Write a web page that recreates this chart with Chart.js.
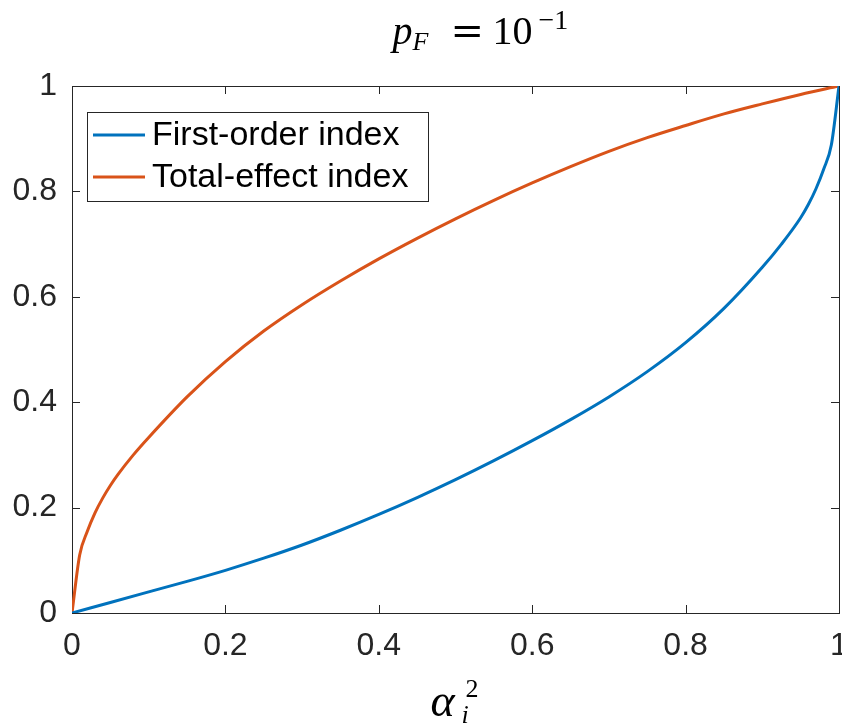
<!DOCTYPE html>
<html>
<head>
<meta charset="utf-8">
<script src="https://cdn.jsdelivr.net/npm/chart.js@4.4.1/dist/chart.umd.min.js"></script>
<style>
  html, body { margin: 0; padding: 0; background: #fff; }
  #wrap { position: relative; width: 842px; height: 725px; }
</style>
</head>
<body>
<div id="wrap"><canvas id="c" width="842" height="725"></canvas></div>
<script>
// ---- data ----
const firstOrderX = [0, 0.05, 0.10, 0.15, 0.20, 0.25, 0.30, 0.35, 0.40, 0.45, 0.50, 0.55, 0.60, 0.65, 0.70, 0.75, 0.80, 0.85, 0.90, 0.925, 0.95, 0.96, 0.97, 0.98, 0.99, 1.00];
const firstOrderY = [0, 0.020, 0.040, 0.060, 0.081, 0.104, 0.129, 0.157, 0.187, 0.219, 0.253, 0.289, 0.327, 0.367, 0.410, 0.458, 0.513, 0.578, 0.656, 0.700, 0.750, 0.775, 0.805, 0.842, 0.888, 1.00];
const totalEffectX = [0, 0.01, 0.02, 0.03, 0.04, 0.05, 0.06, 0.08, 0.10, 0.15, 0.20, 0.25, 0.30, 0.35, 0.40, 0.45, 0.50, 0.55, 0.60, 0.65, 0.70, 0.75, 0.80, 0.85, 0.90, 0.95, 1.00];
const totalEffectY = [0, 0.110, 0.155, 0.190, 0.218, 0.242, 0.263, 0.300, 0.333, 0.410, 0.477, 0.535, 0.585, 0.630, 0.672, 0.711, 0.748, 0.783, 0.816, 0.847, 0.876, 0.902, 0.925, 0.947, 0.966, 0.984, 1.00];
const seriesNames = ['First-order index', 'Total-effect index'];
const xTicks = [0, 0.2, 0.4, 0.6, 0.8, 1];
const xTickLabels = ['0', '0.2', '0.4', '0.6', '0.8', '1'];
const yTicks = [0, 0.2, 0.4, 0.6, 0.8, 1];
const yTickLabels = ['0', '0.2', '0.4', '0.6', '0.8', '1'];

const BLUE = '#0072BD';
const ORANGE = '#D95319';
const AXIS = '#262626';
const TICK_FONT = '"Liberation Sans", Arial, Helvetica, sans-serif';
const MATH_FONT = '"Liberation Serif", "Times New Roman", serif';

const toPoints = (xs, ys) => xs.map((x, i) => ({ x: x, y: ys[i] }));

// inside ticks + full box (MATLAB style)
const boxPlugin = {
  id: 'boxPlugin',
  beforeDatasetsDraw(chart) {
    const { ctx, chartArea: a, scales } = chart;
    ctx.save();
    ctx.strokeStyle = AXIS;
    ctx.lineWidth = 1;
    const L = 8;
    ctx.beginPath();
    scales.x.ticks.forEach(t => {
      const px = Math.round(scales.x.getPixelForValue(t.value)) + 0.5;
      ctx.moveTo(px, a.bottom); ctx.lineTo(px, a.bottom - L);
      ctx.moveTo(px, a.top); ctx.lineTo(px, a.top + L);
    });
    scales.y.ticks.forEach(t => {
      const py = Math.round(scales.y.getPixelForValue(t.value)) + 0.5;
      ctx.moveTo(a.left, py); ctx.lineTo(a.left + L, py);
      ctx.moveTo(a.right, py); ctx.lineTo(a.right - L, py);
    });
    ctx.stroke();
    ctx.strokeRect(Math.round(a.left) + 0.5, Math.round(a.top) + 0.5,
                   Math.round(a.right - a.left), Math.round(a.bottom - a.top));
    ctx.restore();
  }
};

// legend inside the axes + math title and x label
const decorPlugin = {
  id: 'decorPlugin',
  afterDraw(chart) {
    const { ctx, chartArea: a } = chart;
    ctx.save();
    // legend
    const fs = 34;
    ctx.font = fs + 'px ' + TICK_FONT;
    const left = a.left + 15, top = a.top + 26;
    const textX = left + 65;
    let maxW = 0;
    chart.data.datasets.forEach(d => { maxW = Math.max(maxW, ctx.measureText(d.label).width); });
    const w = (textX - left) + maxW + 20;
    const h = 89;
    ctx.fillStyle = '#fff';
    ctx.fillRect(left, top, w, h);
    ctx.strokeStyle = AXIS;
    ctx.lineWidth = 1;
    ctx.strokeRect(Math.round(left) + 0.5, Math.round(top) + 0.5, Math.round(w), h);
    chart.data.datasets.forEach((d, i) => {
      const y = top + 23 + i * 42;
      ctx.strokeStyle = d.borderColor;
      ctx.lineWidth = 3;
      ctx.beginPath();
      ctx.moveTo(left + 6, y); ctx.lineTo(left + 58, y);
      ctx.stroke();
      ctx.fillStyle = '#000';
      ctx.textBaseline = 'middle';
      ctx.textAlign = 'left';
      ctx.fillText(d.label, textX, y + 1);
    });

    // title  p_F = 10^{-1}
    const cx = (a.left + a.right) / 2;
    ctx.fillStyle = '#000';
    ctx.textBaseline = 'alphabetic';
    ctx.textAlign = 'left';
    ctx.font = 'italic 40px ' + MATH_FONT;
    ctx.fillText('p', cx - 63, 44);
    ctx.font = 'italic 26px ' + MATH_FONT;
    ctx.fillText('F', cx - 43, 50);
    ctx.font = '40px "DejaVu Serif", serif';
    ctx.fillText('=', cx - 5, 44);
    ctx.font = '40px ' + MATH_FONT;
    ctx.fillText('10', cx + 37, 44);
    ctx.font = '28px ' + MATH_FONT;
    ctx.fillText('\u22121', cx + 83, 29);

    // x label  alpha_i^2
    ctx.font = 'italic 46px ' + MATH_FONT;
    ctx.fillText('\u03B1', cx - 25, 716);
    ctx.font = '26px ' + MATH_FONT;
    ctx.fillText('2', cx + 10, 697);
    ctx.font = 'italic 26px ' + MATH_FONT;
    ctx.fillText('i', cx + 6, 723);
    ctx.restore();
  }
};

new Chart(document.getElementById('c'), {
  type: 'line',
  data: {
    datasets: [
      { label: seriesNames[0], data: toPoints(firstOrderX, firstOrderY), borderColor: BLUE, backgroundColor: BLUE,
        borderWidth: 3, pointRadius: 0, cubicInterpolationMode: 'monotone', fill: false },
      { label: seriesNames[1], data: toPoints(totalEffectX, totalEffectY), borderColor: ORANGE, backgroundColor: ORANGE,
        borderWidth: 3, pointRadius: 0, cubicInterpolationMode: 'monotone', fill: false }
    ]
  },
  options: {
    responsive: false,
    animation: false,
    devicePixelRatio: 1,
    layout: { padding: { top: 86, right: 3, left: 0, bottom: 0 } },
    plugins: { legend: { display: false }, title: { display: false }, tooltip: { enabled: false } },
    scales: {
      x: {
        type: 'linear', min: 0, max: 1,
        grid: { display: false, drawTicks: false },
        border: { display: false },
        afterBuildTicks: s => { s.ticks = xTicks.map(v => ({ value: v })); },
        afterFit: s => { s.height = 112; s.paddingLeft = 0; s.paddingRight = 0; },
        ticks: {
          autoSkip: false, maxRotation: 0, padding: 14, color: AXIS,
          font: { size: 32, family: TICK_FONT },
          callback: (v, i) => xTickLabels[i]
        }
      },
      y: {
        type: 'linear', min: 0, max: 1,
        grid: { display: false, drawTicks: false },
        border: { display: false },
        afterBuildTicks: s => { s.ticks = yTicks.map(v => ({ value: v })); },
        afterFit: s => { s.width = 72; s.paddingTop = 0; s.paddingBottom = 0; },
        ticks: {
          autoSkip: false, padding: 15, color: AXIS,
          font: { size: 32, family: TICK_FONT },
          callback: (v, i) => yTickLabels[i]
        }
      }
    }
  },
  plugins: [boxPlugin, decorPlugin]
});
</script>
</body>
</html>
